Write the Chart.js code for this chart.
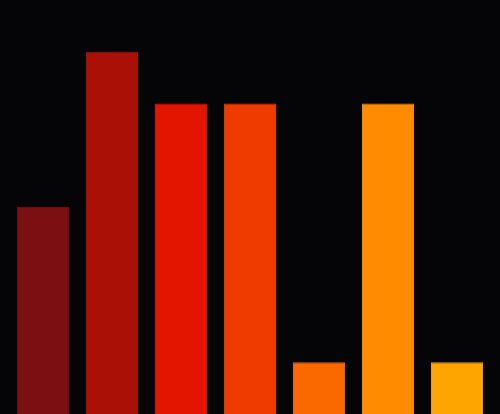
<!DOCTYPE html>
<html>
<head>
<meta charset="utf-8">
<script src="https://cdn.jsdelivr.net/npm/chart.js@4"></script>
<style>
html,body{margin:0;padding:0;background:#050507;}
#wrap{width:500px;height:414px;position:relative;}
</style>
</head>
<body>
<div id="wrap"><canvas id="c"></canvas></div>
<script>
const categories = ["A","B","C","D","E","F","G"];
const values = [4, 7, 6, 6, 1, 6, 1];
const colors = ["#7b0f12","#ab1007","#e31400","#ef3b00","#fa6800","#ff8c00","#ffa500"];
const borders = ["#6e0d10","#9c0e06","#d11200","#de3600","#ea6100","#f08300","#f29c00"];

new Chart(document.getElementById('c'), {
  type: 'bar',
  data: {
    labels: categories,
    datasets: [{
      data: values,
      backgroundColor: colors,
      borderColor: borders,
      borderWidth: 1,
      categoryPercentage: 1,
      barPercentage: 52/69
    }]
  },
  options: {
    responsive: true,
    maintainAspectRatio: false,
    animation: false,
    layout: { padding: { left: 8.5, right: 8.5, top: 0, bottom: 0 } },
    plugins: { legend: { display: false }, tooltip: { enabled: false } },
    scales: {
      x: { display: false },
      y: { display: false, min: 0, max: 8 }
    }
  }
});
</script>
</body>
</html>
